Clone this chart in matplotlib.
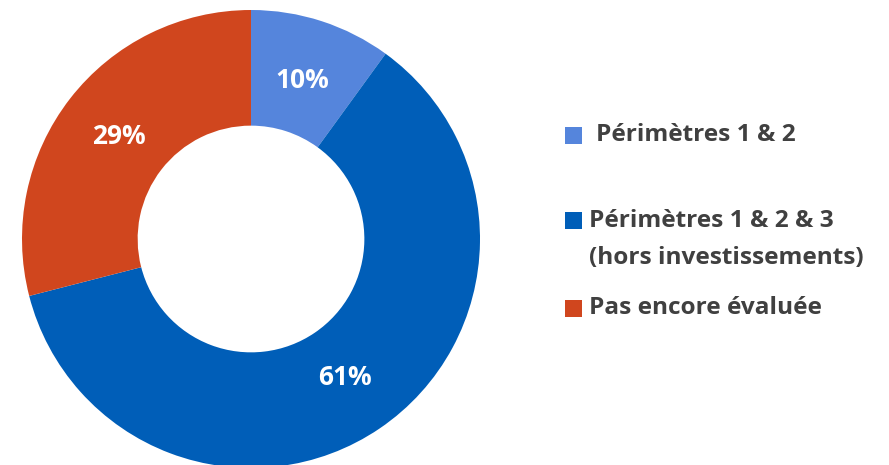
import matplotlib
matplotlib.use("Agg")
import matplotlib.pyplot as plt
from matplotlib.patches import Rectangle

labels = ["Périmètres 1 & 2", "Périmètres 1 & 2 & 3\n(hors investissements)", "Pas encore évaluée"]
shares = [10, 61, 29]
colors = ["#5585DC", "#005EB8", "#D0461E"]

W, H = 889, 465
fig = plt.figure(figsize=(W / 100, H / 100), dpi=100)
ax = fig.add_axes([0, 0, 1, 1])

# pixel-like coordinates (y up)
cx, cy, R = 251, H - 239, 229
wedges, _, pcts = ax.pie(
    shares, colors=colors, startangle=90, counterclock=False,
    center=(cx, cy), radius=R, autopct="%d%%", pctdistance=0.73,
    wedgeprops=dict(width=R * 0.505, linewidth=0),
    textprops=dict(color="white", fontsize=19, fontweight="bold", family="Open Sans"),
)
ax.set_xlim(0, W)
ax.set_ylim(0, H)
ax.set_aspect("equal")
ax.axis("off")

# manual legend
sq = 17
box_y = [135, 221, 308]
text_x = [596, 589, 589]
for lab, col, yc, tx in zip(labels, colors, box_y, text_x):
    ax.add_patch(Rectangle((565, H - yc - sq / 2), sq, sq, color=col, linewidth=0))
    lines = lab.split("\n")
    for k, ln in enumerate(lines):
        ax.text(tx, H - yc - k * 37, ln, ha="left", va="center", fontsize=17.6,
                fontweight="bold", color="#404040", family="Open Sans")

fig.savefig("out.png", dpi=100)
